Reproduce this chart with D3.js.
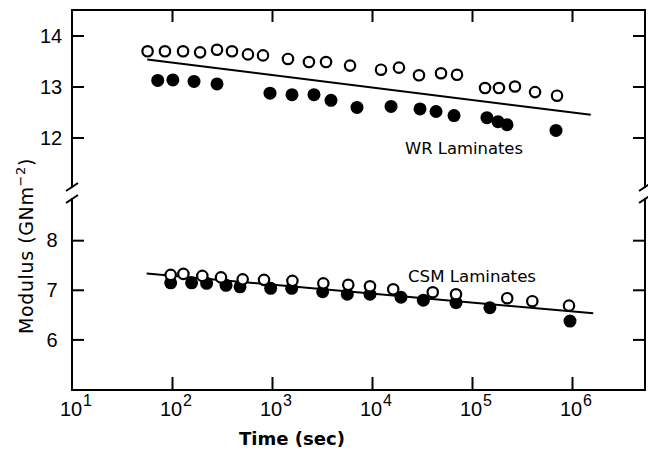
<!DOCTYPE html>
<html>
<head>
<meta charset="utf-8">
<script src="https://cdn.jsdelivr.net/npm/d3@7/dist/d3.min.js"></script>
<style>
  html, body { margin: 0; padding: 0; background: #fff; }
  svg { display: block; }
</style>
</head>
<body>
<svg id="chart" width="648" height="453"></svg>
<script>
// Creep modulus vs. time for WR and CSM laminates (time in seconds, modulus in GN m^-2)

// WR laminates, open symbols
const wrOpenTime = [57, 85, 129, 191, 282, 398, 575, 813, 1445, 2340, 3470, 6030,
                    12300, 18600, 29500, 49000, 70800, 135000, 186000, 269000, 427000, 708000];
const wrOpenMod  = [13.69, 13.69, 13.69, 13.67, 13.72, 13.69, 13.63, 13.61, 13.54, 13.48, 13.48, 13.41,
                    13.33, 13.37, 13.22, 13.26, 13.23, 12.97, 12.97, 13.0, 12.89, 12.82];

// WR laminates, filled symbols
const wrFillTime = [72, 102, 166, 282, 955, 1585, 2630, 3890, 7080, 15500, 30200, 43700,
                    66100, 141000, 182000, 224000, 692000];
const wrFillMod  = [13.12, 13.13, 13.10, 13.05, 12.87, 12.84, 12.84, 12.73, 12.59, 12.61, 12.56, 12.51,
                    12.43, 12.39, 12.31, 12.25, 12.14];

// WR fitted line (end points)
const wrFitTime = [56.6, 1.54e6];
const wrFitMod  = [13.53, 12.445];

// CSM laminates, open symbols
const csmOpenTime = [97, 130, 201, 309, 509, 832, 1600, 3260, 5790, 9550, 16300, 40500,
                     69200, 225000, 401000, 933000];
const csmOpenMod  = [7.30, 7.32, 7.28, 7.25, 7.21, 7.20, 7.18, 7.13, 7.10, 7.07, 7.01, 6.95,
                     6.91, 6.83, 6.77, 6.68];

// CSM laminates, filled symbols
const csmFillTime = [97, 157, 222, 347, 479, 970, 1574, 3210, 5660, 9550, 19500, 32600,
                     69200, 151000, 955000];
const csmFillMod  = [7.14, 7.14, 7.13, 7.09, 7.06, 7.03, 7.03, 6.96, 6.91, 6.91, 6.85, 6.79,
                     6.74, 6.64, 6.37];

// CSM fitted line (end points)
const csmFitTime = [55.8, 1.63e6];
const csmFitMod  = [7.33, 6.525];

// Axis ticks
const timeTickExps = [1, 2, 3, 4, 5, 6];
const wrModTicks   = [12, 13, 14];
const csmModTicks  = [6, 7, 8];

const axisLabelX = "Time (sec)";
const axisLabelY = "Modulus (GNm";
const axisLabelYSup = "\u22122";
const wrLabel  = "WR Laminates";
const csmLabel = "CSM Laminates";

// ---------------------------------------------------------------
const svg = d3.select("#chart");
const ink = "#000";

const x = d3.scaleLog().domain([10, Math.pow(10, 6.73)]).range([72, 645]);
// Broken modulus axis: upper panel for WR, lower panel for CSM
const yTop = d3.scaleLinear().domain([11.03, 14.5]).range([187, 10]);
const yBot = d3.scaleLinear().domain([4.98, 8.83]).range([390, 199]);

const plotLeft = x.range()[0], plotRight = x.range()[1];
const plotTop = yTop.range()[1], plotBottom = yBot.range()[0];

const zip = (a, b) => a.map((d, i) => [d, b[i]]);

// frame lines
const frame = svg.append("g").attr("stroke", ink).attr("stroke-width", 2).attr("fill", "none")
  .attr("stroke-linecap", "square");
frame.append("line").attr("x1", plotLeft).attr("x2", plotRight).attr("y1", plotTop).attr("y2", plotTop);
frame.append("line").attr("x1", plotLeft).attr("x2", plotRight).attr("y1", plotBottom).attr("y2", plotBottom);
[plotLeft, plotRight].forEach(xx => {
  frame.append("line").attr("x1", xx).attr("x2", xx).attr("y1", plotTop).attr("y2", yTop.range()[0]);
  frame.append("line").attr("x1", xx).attr("x2", xx).attr("y1", yBot.range()[1]).attr("y2", plotBottom);
  // break marks
  [yTop.range()[0], yBot.range()[1]].forEach(yy => {
    frame.append("line").attr("stroke-linecap", "butt")
      .attr("x1", xx - 6).attr("y1", yy + 4).attr("x2", xx + 6).attr("y2", yy - 4);
  });
});

// x ticks (inward, both top and bottom)
const xTickVals = timeTickExps.filter(e => e > 1).map(e => Math.pow(10, e));
const axB = svg.append("g").attr("transform", `translate(0,${plotBottom})`)
  .call(d3.axisBottom(x).tickValues(xTickVals).tickSizeInner(-13).tickSizeOuter(0).tickFormat(""));
const axT = svg.append("g").attr("transform", `translate(0,${plotTop})`)
  .call(d3.axisTop(x).tickValues(xTickVals).tickSizeInner(-12).tickSizeOuter(0).tickFormat(""));

// y ticks (inward, both sides)
const axL1 = svg.append("g").attr("transform", `translate(${plotLeft},0)`)
  .call(d3.axisLeft(yTop).tickValues(wrModTicks).tickSizeInner(-12).tickSizeOuter(0).tickFormat(""));
const axL2 = svg.append("g").attr("transform", `translate(${plotLeft},0)`)
  .call(d3.axisLeft(yBot).tickValues(csmModTicks).tickSizeInner(-12).tickSizeOuter(0).tickFormat(""));
const axR1 = svg.append("g").attr("transform", `translate(${plotRight},0)`)
  .call(d3.axisRight(yTop).tickValues(wrModTicks).tickSizeInner(-12).tickSizeOuter(0).tickFormat(""));
const axR2 = svg.append("g").attr("transform", `translate(${plotRight},0)`)
  .call(d3.axisRight(yBot).tickValues(csmModTicks).tickSizeInner(-12).tickSizeOuter(0).tickFormat(""));

[axB, axT, axL1, axL2, axR1, axR2].forEach(g => {
  g.select(".domain").remove();
  g.selectAll(".tick line").attr("stroke", ink).attr("stroke-width", 2);
});

const tickFont = "'Liberation Sans', Arial, sans-serif";

// y tick labels
wrModTicks.forEach(v => {
  svg.append("text").attr("x", 51).attr("y", yTop(v)).attr("dy", "0.36em")
    .attr("text-anchor", "middle").attr("font-family", tickFont).attr("font-size", 20)
    .attr("fill", ink).text(v);
});
csmModTicks.forEach(v => {
  svg.append("text").attr("x", 52).attr("y", yBot(v)).attr("dy", "0.36em")
    .attr("text-anchor", "middle").attr("font-family", tickFont).attr("font-size", 20)
    .attr("fill", ink).text(v);
});

// x tick labels as powers of ten
timeTickExps.forEach(e => {
  const xx = x(Math.pow(10, e));
  svg.append("text").attr("x", xx - 1).attr("y", 416)
    .attr("text-anchor", "middle").attr("font-family", tickFont).attr("font-size", 20)
    .attr("fill", ink).text("10");
  svg.append("text").attr("x", xx + 11).attr("y", 406)
    .attr("text-anchor", "start").attr("font-family", tickFont).attr("font-size", 16)
    .attr("fill", ink).text(e);
});

// axis titles
svg.append("text").attr("x", 292).attr("y", 445).attr("text-anchor", "middle")
  .attr("font-family", "'DejaVu Sans', sans-serif").attr("font-weight", "bold")
  .attr("font-size", 18).attr("textLength", 106).attr("lengthAdjust", "spacingAndGlyphs")
  .attr("fill", ink).text(axisLabelX);

const yt = svg.append("text").attr("transform", "translate(33,246) rotate(-90)")
  .attr("text-anchor", "middle").attr("font-family", "'DejaVu Sans', sans-serif")
  .attr("font-size", 19).attr("letter-spacing", 0.6).attr("fill", ink);
yt.append("tspan").text(axisLabelY);
yt.append("tspan").attr("font-size", 13).attr("dy", -8).text(axisLabelYSup);
yt.append("tspan").attr("dy", 8).text(")");

// fitted lines
const line = (ys) => d3.line().x(d => x(d[0])).y(d => ys(d[1]));
svg.append("path").datum(zip(wrFitTime, wrFitMod)).attr("d", line(yTop))
  .attr("fill", "none").attr("stroke", ink).attr("stroke-width", 2);
svg.append("path").datum(zip(csmFitTime, csmFitMod)).attr("d", line(yBot))
  .attr("fill", "none").attr("stroke", ink).attr("stroke-width", 2);

// symbols
function filled(t, m, ys) {
  svg.append("g").selectAll("circle").data(zip(t, m)).join("circle")
    .attr("cx", d => x(d[0])).attr("cy", d => ys(d[1])).attr("r", 6.5).attr("fill", ink);
}
function open(t, m, ys) {
  svg.append("g").selectAll("circle").data(zip(t, m)).join("circle")
    .attr("cx", d => x(d[0])).attr("cy", d => ys(d[1])).attr("r", 5.2)
    .attr("fill", "#fff").attr("stroke", ink).attr("stroke-width", 2.2);
}
filled(wrFillTime, wrFillMod, yTop);
open(wrOpenTime, wrOpenMod, yTop);
filled(csmFillTime, csmFillMod, yBot);
open(csmOpenTime, csmOpenMod, yBot);

// series labels
svg.append("text").attr("x", 405).attr("y", 154)
  .attr("font-family", "'DejaVu Sans', sans-serif").attr("font-size", 16)
  .attr("textLength", 118).attr("lengthAdjust", "spacingAndGlyphs")
  .attr("fill", ink).text(wrLabel);
svg.append("text").attr("x", 408).attr("y", 282)
  .attr("font-family", "'DejaVu Sans', sans-serif").attr("font-size", 16)
  .attr("textLength", 128).attr("lengthAdjust", "spacingAndGlyphs")
  .attr("fill", ink).text(csmLabel);
</script>
</body>
</html>
